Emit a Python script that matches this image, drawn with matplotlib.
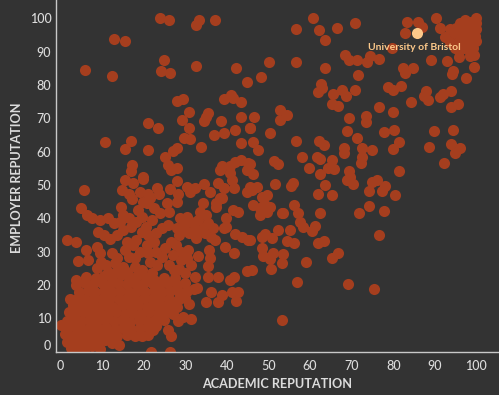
import numpy as np
import matplotlib
matplotlib.use('Agg')
import matplotlib.pyplot as plt
from matplotlib.transforms import ScaledTranslation

# academic reputation, employer reputation
sparse_scores = [
    (23.9,100),(26.2,99.5),(33.4,99.6),(32.7,98.1),(37.2,99.6),(12.9,93.7),(15.5,93.1),(24.8,87.6),
    (6.0,84.5),(24.2,84.2),(26.4,83.6),(12.5,82.6),(32.6,85.7),(42.3,85),(44.8,81),(27.9,75.2),
    (29.5,75.7),(39.2,75.7),(40.9,77),(41.5,76),(43.3,75),(30.8,72),(35.5,71.6),(35.0,70.4),(34.5,69.2),
    (29.3,69.6),(38.5,69.3),(43.3,70.4),(21.1,68.7),(23.4,67),(31,67),(42,66.5),(45.5,67),(39.2,65.6),
    (36.8,65),(29.7,64),(31.1,63.7),(17,63.3),(10.7,63),(43.3,62.5),(15.4,60.8),(21,60.5),(33.9,61.4),
    (27.9,61.2),(27.1,60.2),(25.1,58.5),(25.8,56),(26.6,54.6),(27.9,55),(17.3,56),(16.9,54.2),(19.9,52.4),
    (19.9,51.7),(15.5,51.6),(17.5,50.6),(28,51.1),(34.5,50.4),(37.9,50.6),(38.4,54.4),(38.8,55.8),(40.8,55.8),
    (42,57),(43.3,57.6),(45.1,56.5),(44.8,54.4),(40.8,53.5),(41.2,51.5),(41.8,49),(45.5,49.5),(5.6,48.5),
    (14.9,48.4),(16.5,47.4),(19.1,48),(21.1,47.4),(23.1,49),(23.8,47.4),(26.3,48.7),(28.3,47.4),(30.3,49.4),
    (32.3,49.2),(31.1,48),(35.9,48),(39.2,49),(38.8,46),(44.8,48),
    (60.7,100),(56.7,96.9),(62.1,96.5),(66.4,97),(70.9,98.5),(63.6,93.5),(83.4,99),(86,99),(87,97.5),
    (82.8,95.7),(90.3,100),(91.2,97),(93.7,96.7),(94.6,95.5),(92.4,94.5),(79.6,91),(68.5,89),(69.4,87.4),
    (71.4,87.6),(73.6,86.9),(74.4,88.6),(76.6,87.9),(89.2,87.4),(92.9,87.2),(95.8,88.4),(50.1,87),(56.7,87),
    (63.7,85),(48.3,82.3),(71.6,82.9),(62.6,80.4),(62.9,79.2),(61.8,77.9),(65.6,77.2),(67.8,78.4),(68.6,76.6),
    (70.9,78.6),(65.2,74.2),(66.8,73.6),(82.4,85.1),(84.8,85.1),(82.8,83.6),(94.4,84.2),(94.2,83.2),(99.5,85.3),
    (97.5,82.2),(78.8,79.4),(80,78.6),(81.9,79.6),(87.9,78.2),(94,78.2),(92,77.4),(91.2,76.4),(87.4,76.6),
    (88.4,75.4),(84.3,75),(95.5,74.2),(93.9,73.4),(76.6,73.4),(79.9,72),(52.9,72.6),(54.4,71),(52.8,69.4),
    (46.6,70.4),(45.6,67),(69.4,70),(73.4,70.8),(73.4,69),(69,66.3),(77.9,66),(80.3,66.6),(89.9,66.1),
    (94.3,66.4),(50.4,65.6),(71.2,64.2),(56.7,63.1),(62.1,63.2),(63.3,62),(46.2,62.9),(47.6,60.4),(68.2,61),
    (68.1,59.5),(72.6,61.2),(74.9,60.5),(81.3,62.8),(79.9,60.7),(88.6,61.4),(93.9,62.2),(96,61.2),(94.8,59.6),
    (58,58.5),(61.7,58.4),(62.5,57.7),(51.3,57.2),(52.4,56.4),(72.6,58.4),(72.2,56.7),(65.2,57.4),(92.3,56.7),
    (45.6,56.4),(59.7,55.1),(65.8,54.7),(64.4,55.1),(62.5,53.4),(46.2,53.4),(69.4,54.1),(81.5,54.2),(68.8,51.4),
    (70.4,50.4),(69.6,52.4),(74.8,50.9),(76.2,51.4),(78,49.6),(77.3,48.2),(74.2,48.2),(51.6,50.3),(56,50.7),
    (55.4,49.7),(63.6,49.9),(61.9,47.4),(65.4,47.1),(80.5,47.1),(47.2,49.4),(46,48.4),(49.6,47.1),(48.4,46.4),
    (53.2,9.4),(75.5,18.9),(69.1,20.4),(56.9,21),(76.5,35),(71.8,41.6),(74.3,43.7),(77.7,42.3),(62.4,41.5),
    (65.4,28),(66.8,29.7),(59.1,26.9),(53.2,26.5),(50.5,24.8),(46,24.5),(48.5,31.2),(48.6,28.7),(50.4,27.7),
    (51.2,29.5),(53.6,29.3),(61.8,32.5),(63.4,33.2),(54.4,33.2),(56.2,32.5),(61.3,37.8),(60.5,36.3),(57.6,38.8),
    (58.2,37.5),(55.2,36.5),(52.4,36.5),(50.8,34.2),(49.2,35.2),(48.4,34.5),(45.6,33.5),(57.2,41.6),(56.2,44),
    (53.2,41.5),(53.6,41.5),(49.2,44),(47.9,41),(49.6,42),(46.4,44),(48.8,46),(50.4,43.5),(48,43),
]

top_right_scores = [
    (99.8,100),(97.2,99.5),(96.1,98.5),(100,98.5),(98.5,97.5),(96.9,96.7),(100,96.7),(98,95.7),(99.6,94.7),
    (97.6,93.7),(100,93.2),(99.2,91),(97.6,92.7),(95.8,90.5),(94.9,91),(93.7,93),(98.6,99),(97.5,97),(99,95),
    (98.5,92.5),(96,95),(95.5,93),(97,98),(95,97),(96.5,93.5),(97,91),(98.4,90),(99.4,89),(98.5,94),(97,95),
    (99.5,97.5),(96.3,92),(98.5,88.8),
]

lower_scores = [
    (14.1,1.9),(21.7,0),(26.3,0),(26.6,4.7),(25.9,6.6),(31.4,9.8),(28.3,9.2),(29.4,10.5),(23,7.6),(22.3,6.4),
    (4.9,43),(14.5,43.4),(15,41),(1.5,33.6),(3.7,33),(4.1,27.1),(6.1,30.5),(6.7,27.5),(8.7,31.5),(9.5,29.5),
    (12.5,29.7),(22.1,39.5),(39.6,31.5),(41.7,29.7),(44.9,24.2),(42.1,15.2),(42.8,17.8),(41.2,18),(41.8,22.5),
    (40.8,21.5),(37.9,22.5),(35.5,22.5),(35.1,15),(37.9,14.8),(38.8,17),(36.3,18),(35.5,25.8),(35.9,28),(35.8,30.5),
    (33.1,28.7),(30.7,30.5),(32.8,19),(32.3,22.5),(41.6,42.5),(42.8,42),(39.9,40),(39.9,37.5),(39.3,37),(42,35.2),
    (43.6,34.5),(45.2,33.5),(37.1,33.5),(36.7,37),(35.1,41),(33.5,42),(37.5,43.5),(34.3,37),(32.3,37),(32.7,34),
    (28.7,40),(27.9,37),(24.3,37),(17.1,45.7),(19.9,45),(21.5,46),(25.5,44.5),(28,45),(34.3,44.5),(37.5,44.5),
    (38.4,46),(18.7,42.5),(20.7,44.5),
    (6.3,41),(7.5,40),(9.5,39.5),(11.5,40),(12.8,38.5),(14.2,38.8),(9,36),(10.5,35),(11.8,33.8),(13.5,35),
    (15,36.5),(17,37.5),(18.2,38.8),(19.5,36),(20.5,37.5),(16,33),(17.5,32),(18.2,33.5),(15.5,30.5),(16.5,28.5),
    (20.8,32),(22.5,33),(23,30),(24.5,28.5),(25.2,31),(26.5,33),(27.8,32),(21.5,27),(23.3,26),(26,26),(27.2,24.5),
    (29,27.5),(30.5,28),(31.5,26),(28.5,24.8),(30,23.5),(33,36),(35.5,38.5),(30.5,40.5),(36.2,34.5),(31,35.5),
    (28.5,35),(25.8,38),(29.8,38),(11,26),(13,26.5),(15,25.5),(8.8,25),(9.8,27),(18,25.5),(19.5,24.5),
    (31.5,39),(33,39.5),(30,36.5),(34.8,35.5),(21,35),(23,35.5),(19,30),(21,29.5),(18,28),(13.5,28),(27,29),(29,30),
    (24,41.5),(26,42),(22.5,43),(16.5,40),(19.5,40.5),
]

# the filled mass down in the corner
dense_scores = [
    (2.5,1),(4,1.5),(5.8,1),(7.6,1.6),(9.4,0.8),(1.6,3),(3.4,3.4),(5.2,2.9),(7.1,3.3),(9.1,2.8),(10.8,3.4),(12.3,2.7),
    (1.1,5.2),(2.9,4.8),(4.6,5.3),(6.2,5),(8,5.4),(10,4.9),(12.1,5.2),(13.6,4.8),(16,5),(18,4.6),(19.7,4.8),(21,5),
    (0.1,8),(1.8,7),(3.5,7.3),(5.1,6.9),(7,7.4),(9,7),(11,7.3),(13,6.9),(15.1,7.2),(17,6.8),(19,7.1),(21,7.4),
    (1.6,9.2),(3,9.5),(4.9,9.1),(6.8,9.6),(8.8,9.2),(10.7,9.5),(12.8,9.1),(14.8,9.4),(16.8,9),(18.8,9.5),(20.8,9.1),(22.8,9.4),(24.8,9.6),
    (2.1,11.8),(3.8,11.5),(5.6,11.9),(7.5,11.4),(9.4,11.7),(11.4,11.3),(13.4,11.8),(15.4,11.4),(17.4,11.7),(19.4,11.3),(21.4,11.8),(23.4,11.5),(25.4,11.9),(27,11.2),
    (3,13.9),(4.9,13.6),(6.8,14),(8.7,13.5),(10.7,13.9),(12.7,13.5),(14.7,14),(16.7,13.6),(18.7,13.9),(20.7,13.5),(22.7,14),(24.7,13.6),(26.6,14),(28,13.4),
    (2.3,15.8),(4.3,16),(6,15.9),(8,16.2),(10,15.8),(12,16.1),(14,15.7),(16,16.2),(18,15.8),(20,16.1),(22,15.7),(24,16.2),(26,15.8),(28.2,15.6),(30,16.2),(31,14.2),
    (4.4,18),(6.5,18.2),(8.4,17.9),(10.4,18.3),(12.4,17.9),(14.4,18.3),(16.4,18),(18.4,18.3),(20.4,17.9),(22.4,18.2),(24.4,18),(26.4,18.3),(28.4,17.8),(30.4,18.3),(32,18.8),
    (3.8,20.1),(5.9,20.6),(7.9,20.2),(9.9,20.7),(11.9,20.3),(13.9,20.6),(15.9,20.2),(17.9,20.6),(19.9,20.2),(21.9,20.6),(23.9,20.2),(25.9,20.5),(27.9,20.1),(29.9,20.6),
    (3.8,21.5),(6.2,22.4),(8.5,22),(10.5,22.8),(12.5,22.3),(14.5,22.9),(16.5,22.4),(18.5,22.6),(20.5,22.1),(22.5,21.6),(25,22),(27.5,22.2),
    (11.5,24),(13.5,24.2),(16,23.8),(19,23.5),(22,23.5),
]

bristol_score = (85.7, 95.6)
bristol_name = 'University of Bristol'

x_ticks = [0, 10, 20, 30, 40, 50, 60, 70, 80, 90, 100]
y_ticks = [0, 10, 20, 30, 40, 50, 60, 70, 80, 90, 100]

bg = '#333333'
text_col = '#dcdcdc'
dot_col = '#a53e1e'
hi_col = '#fdc98a'

plt.rcParams['font.family'] = ['Lato', 'DejaVu Sans']

fig = plt.figure(figsize=(4.99, 3.95), dpi=100, facecolor=bg)
ax = fig.add_axes([55.5/499, 43.5/395, 442.5/499, 351.5/395], facecolor=bg)

scores = np.array(sparse_scores + top_right_scores + lower_scores + dense_scores)
ax.scatter(scores[:, 0], scores[:, 1], s=64, color=dot_col, linewidths=0, zorder=2)
ax.scatter([bristol_score[0]], [bristol_score[1]], s=64, color=hi_col, linewidths=0, zorder=3)
ax.text(bristol_score[0]-0.6, bristol_score[1]-2.9, bristol_name, color=hi_col, fontsize=7.5,
        fontweight='bold', ha='center', va='top', zorder=4)

ax.set_xlim(-1.2, 105.2)
ax.set_ylim(0, 105.5)
ax.set_xticks(x_ticks)
ax.set_yticks(y_ticks)
ax.tick_params(length=0, colors=text_col, labelsize=9, pad=6)
ax.tick_params(axis='y', pad=3)
for lab in ax.get_xticklabels() + ax.get_yticklabels():
    lab.set_fontweight('medium')

# bottom y label sits a bit higher than its tick
y0 = ax.get_yticklabels()[0]
y0.set_transform(y0.get_transform() + ScaledTranslation(0, 7/100, fig.dpi_scale_trans))

ax.set_xlabel('ACADEMIC REPUTATION', color=text_col, fontsize=9.1, fontweight='bold')
ax.set_ylabel('EMPLOYER REPUTATION', color=text_col, fontsize=9.1, fontweight='bold')
ax.xaxis.set_label_coords((277-55.5)/442.5, -27/351.5)
ax.yaxis.set_label_coords(-32/442.5, (351.5-178)/351.5)

for side in ['top', 'right']:
    ax.spines[side].set_visible(False)
for side in ['left', 'bottom']:
    ax.spines[side].set_color('#c8c8c8')
    ax.spines[side].set_linewidth(1)

fig.savefig('out.png', dpi=100, facecolor=bg)
